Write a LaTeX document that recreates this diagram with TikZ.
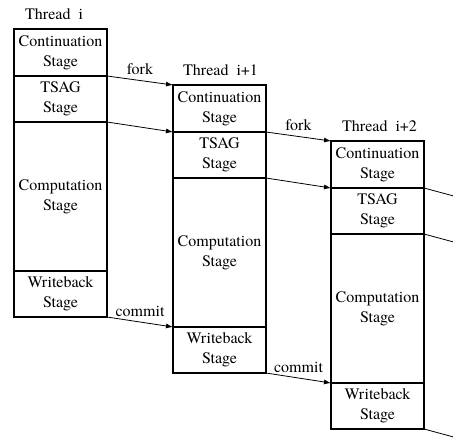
\documentclass[tikz,border=0pt]{standalone}
\usepackage{fontspec}
\setmainfont{TeX Gyre Termes}
\usepackage{tikz}
\usetikzlibrary{arrows.meta,positioning}

\tikzset{
    stage/.style={draw, line width=1.6pt, minimum width=93pt, inner sep=0pt, outer sep=0pt,
        align=center, font=\fontsize{16}{20}\selectfont},
    title/.style={inner sep=0pt, font=\fontsize{16}{20}\selectfont},
    lbl/.style={inner sep=0pt, font=\fontsize{16}{20}\selectfont},
    flow/.style={line width=0.8pt, -{Latex[length=7pt,width=5pt]}}
}

\begin{document}
\begin{tikzpicture}[x=1pt, y=-1pt]
    \useasboundingbox (0,0) rectangle (453,437);
    \clip (0,0) rectangle (453,437);

    % Thread i
    \node[title, anchor=base west] (t1name) at (25,19) {Thread~~i};
    \node[stage, anchor=north west, minimum height=47pt] (t1cont) at (14,29) {Continuation\\Stage};
    \node[stage, minimum height=46pt, below=0pt of t1cont] (t1tsag) {TSAG\\Stage};
    \node[stage, minimum height=149pt, below=0pt of t1tsag] (t1comp) {\\[-8pt]Computation\\Stage};
    \node[stage, minimum height=46pt, below=0pt of t1comp] (t1wb) {Writeback\\Stage};

    % Thread i+1
    \node[title, anchor=base west] (t2name) at (183,75) {Thread~~i+1};
    \node[stage, anchor=north west, minimum height=47pt] (t2cont) at (173,85) {Continuation\\Stage};
    \node[stage, minimum height=46pt, below=0pt of t2cont] (t2tsag) {TSAG\\Stage};
    \node[stage, minimum height=149pt, below=0pt of t2tsag] (t2comp) {\\[-8pt]Computation\\Stage};
    \node[stage, minimum height=46pt, below=0pt of t2comp] (t2wb) {Writeback\\Stage};

    % Thread i+2
    \node[title, anchor=base west] (t3name) at (342,131) {Thread~~i+2};
    \node[stage, anchor=north west, minimum height=47pt] (t3cont) at (331,141) {Continuation\\Stage};
    \node[stage, minimum height=46pt, below=0pt of t3cont] (t3tsag) {TSAG\\Stage};
    \node[stage, minimum height=149pt, below=0pt of t3tsag] (t3comp) {\\[-8pt]Computation\\Stage};
    \node[stage, minimum height=46pt, below=0pt of t3comp] (t3wb) {Writeback\\Stage};

    % fork / commit hand-over
    \draw[flow] (t1cont.south east) -- node[lbl, above=5pt] (fork1) {fork} (t2cont.north west);
    \draw[flow] (t1tsag.south east) -- (t2tsag.north west);
    \draw[flow] (t1wb.south east) -- node[lbl, above=5pt] (commit1) {commit} (t2wb.north west);

    \draw[flow] (t2cont.south east) -- node[lbl, above=5pt] (fork2) {fork} (t3cont.north west);
    \draw[flow] (t2tsag.south east) -- (t3tsag.north west);
    \draw[flow] (t2wb.south east) -- node[lbl, above=5pt] (commit2) {commit} (t3wb.north west);

    % to the next thread (off the page)
    \coordinate (out1) at (461,198);
    \coordinate (out2) at (461,244);
    \coordinate (out3) at (461,439);
    \draw[flow] (t3cont.south east) -- (out1);
    \draw[flow] (t3tsag.south east) -- (out2);
    \draw[flow] (t3wb.south east) -- (out3);
\end{tikzpicture}
\end{document}
